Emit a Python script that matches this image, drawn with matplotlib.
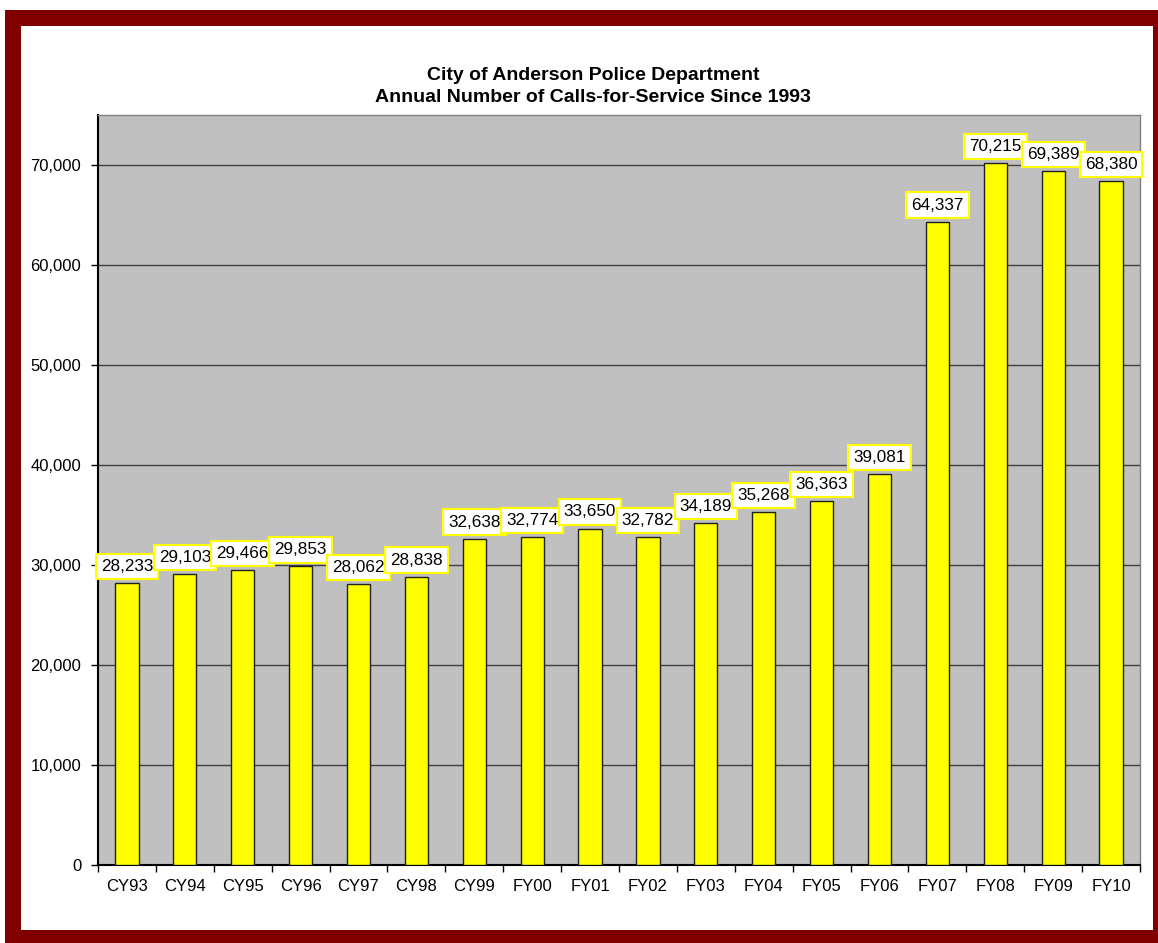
import numpy as np
import matplotlib.pyplot as plt
from matplotlib.patches import Rectangle
from matplotlib.ticker import FuncFormatter, FixedLocator

# ------------------------------------------------------------------
# DATA
# ------------------------------------------------------------------
years = ["CY93", "CY94", "CY95", "CY96", "CY97", "CY98", "CY99",
         "FY00", "FY01", "FY02", "FY03", "FY04", "FY05", "FY06",
         "FY07", "FY08", "FY09", "FY10"]
calls = [28233, 29103, 29466, 29853, 28062, 28838, 32638,
         32774, 33650, 32782, 34189, 35268, 36363, 39081,
         64337, 70215, 69389, 68380]
title_lines = ["City of Anderson Police Department",
               "Annual Number of Calls-for-Service Since 1993"]

plt.rcParams['font.family'] = ['Liberation Sans', 'DejaVu Sans']

W, H = 1158, 943
fig = plt.figure(figsize=(W / 100, H / 100), dpi=100)

# dark red frame + white inner panel
fig.patches.append(Rectangle((5 / W, 0), 1, (H - 10) / H,
                             transform=fig.transFigure, facecolor="#800000",
                             edgecolor="none", zorder=-2))
fig.patches.append(Rectangle((21 / W, (H - 930) / H), (1153 - 21) / W, (930 - 26) / H,
                             transform=fig.transFigure, facecolor="white",
                             edgecolor="none", zorder=-1))

ax = fig.add_axes([98 / W, (H - 865) / H, (1140 - 98) / W, (865 - 115) / H])
ax.set_facecolor("#C0C0C0")

x = np.arange(len(years))
ax.bar(x, calls, width=0.4, color="#FFFF00", edgecolor="#202020", linewidth=1.0, zorder=3)

for xi, v in zip(x, calls):
    ax.annotate(f"{v:,}", (xi, v), xytext=(0, 6.5), textcoords="offset points",
                ha="center", va="bottom", fontsize=12.3, zorder=4,
                bbox=dict(boxstyle="square,pad=0.3", facecolor="white",
                          edgecolor="#FFFF00", linewidth=1.5))

ax.set_xlim(-0.5, len(years) - 0.5)
ax.set_ylim(0, 75000)
ax.set_yticks(np.arange(0, 70001, 10000))
ax.yaxis.set_major_formatter(FuncFormatter(lambda v, p: f"{int(v):,}"))
ax.grid(axis="y", color="#404040", linewidth=1.0, zorder=1)

ax.set_xticks(x)
ax.set_xticklabels(years)
ax.xaxis.set_minor_locator(FixedLocator(np.arange(-0.5, len(years), 1.0)))
ax.tick_params(axis="x", which="major", length=0, pad=10, labelsize=12)
ax.tick_params(axis="x", which="minor", length=5, width=1.0, direction="out")
ax.tick_params(axis="y", length=5, width=1.0, labelsize=12, pad=7)

for s in ["left", "bottom"]:
    ax.spines[s].set_color("black")
    ax.spines[s].set_linewidth(1.5)
for s in ["top", "right"]:
    ax.spines[s].set_color("#808080")
    ax.spines[s].set_linewidth(1.0)

fig.text(593 / W, 1 - 75 / H, title_lines[0], ha="center", va="center",
         fontsize=14, fontweight="bold")
fig.text(593 / W, 1 - 97 / H, title_lines[1], ha="center", va="center",
         fontsize=14, fontweight="bold")

fig.savefig("out.png", dpi=100)
